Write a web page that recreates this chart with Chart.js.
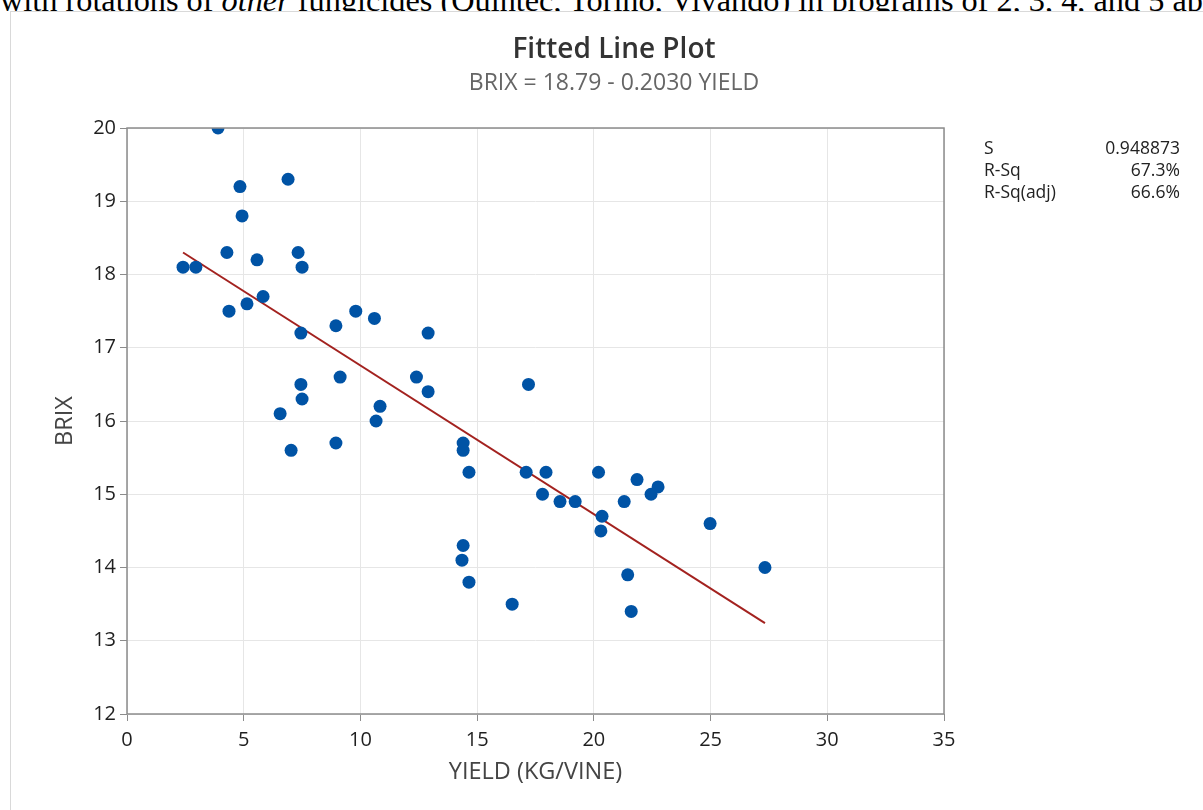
<!DOCTYPE html>
<html>
<head>
<meta charset="utf-8">
<script src="https://cdn.jsdelivr.net/npm/chart.js@4"></script>
<style>
  html, body { margin: 0; padding: 0; width: 1203px; height: 810px; overflow: hidden; background: #fff; }
  #top { position: absolute; left: 0; top: -18.5px; white-space: nowrap; font-family: "Liberation Serif", serif; font-size: 32.3px; color: #000; }
  #frame { position: absolute; left: 10px; top: 11px; width: 1300px; height: 900px; border: 1px solid #d9d9d9; box-sizing: border-box; background: #fff; }
  #wrap { position: absolute; left: 0; top: 0; width: 1203px; height: 810px; }
  .ttl { position: absolute; left: 314px; width: 600px; text-align: center; font-family: "Open Sans", sans-serif; white-space: nowrap; }
  #stats { position: absolute; left: 984px; top: 136px; font-family: "Open Sans", sans-serif; font-size: 17.5px; color: #222; }
  #stats td { padding: 0; line-height: 22px; }
  #stats td.v { text-align: right; width: 124px; }
</style>
</head>
<body>
<div id="top">with rotations of <i>other</i> fungicides (Quintec, Torino, Vivando) in programs of 2, 3, 4, and 5 applications</div>
<div id="frame"></div>
<div id="wrap"><canvas id="myChart" width="1203" height="810"></canvas></div>
<div class="ttl" style="top:28px;font-size:28px;font-weight:600;color:#333;">Fitted Line Plot</div>
<div class="ttl" style="top:65px;font-size:23px;color:#666;">BRIX = 18.79 - 0.2030 YIELD</div>
<table id="stats" cellspacing="0">
  <tr><td>S</td><td class="v">0.948873</td></tr>
  <tr><td>R-Sq</td><td class="v">67.3%</td></tr>
  <tr><td>R-Sq(adj)</td><td class="v">66.6%</td></tr>
</table>
<script>
// yield (kg/vine) and brix
const yieldVals = [2.4, 2.95, 3.9, 4.28, 4.37, 4.84, 4.93, 5.14, 5.57, 5.83,
                   6.9, 7.33, 7.5, 7.45, 6.56, 7.03, 7.45, 7.5, 8.95, 9.13,
                   8.95, 9.8, 10.6, 10.67, 10.84, 12.4, 12.9, 12.9, 14.4, 14.4,
                   14.65, 14.4, 14.35, 14.65, 16.5, 17.2, 17.1, 17.95, 17.8, 18.55,
                   19.2, 20.2, 20.35, 20.3, 21.3, 21.45, 21.6, 21.85, 22.45, 22.75,
                   24.98, 27.33];
const brixVals = [18.1, 18.1, 20.0, 18.3, 17.5, 19.2, 18.8, 17.6, 18.2, 17.7,
                  19.3, 18.3, 18.1, 17.2, 16.1, 15.6, 16.5, 16.3, 17.3, 16.6,
                  15.7, 17.5, 17.4, 16.0, 16.2, 16.6, 17.2, 16.4, 15.7, 15.6,
                  15.3, 14.3, 14.1, 13.8, 13.5, 16.5, 15.3, 15.3, 15.0, 14.9,
                  14.9, 15.3, 14.7, 14.5, 14.9, 13.9, 13.4, 15.2, 15.0, 15.1,
                  14.6, 14.0];
// fitted line end points
const fitX = [2.4, 27.33];
const fitY = [18.3, 13.24];
const xTicks = [0, 5, 10, 15, 20, 25, 30, 35];
const yTicks = [12, 13, 14, 15, 16, 17, 18, 19, 20];

const pts = yieldVals.map((v, i) => ({ x: v, y: brixVals[i] }));
const fit = fitX.map((v, i) => ({ x: v, y: fitY[i] }));

const boxPlugin = {
  id: 'box',
  afterDraw(chart) {
    const a = chart.chartArea;
    const c = chart.ctx;
    c.save();
    c.strokeStyle = '#8c8c8c';
    c.lineWidth = 1.5;
    c.strokeRect(a.left, a.top, a.right - a.left, a.bottom - a.top);
    c.restore();
  }
};

const tickFont = { family: 'Open Sans', size: 20, weight: 500 };
const titleFont = { family: 'Open Sans', size: 23.5 };

const ctx = document.getElementById('myChart');
new Chart(ctx, {
  type: 'scatter',
  data: {
    datasets: [{
      label: 'Fit',
      data: fit,
      showLine: true,
      borderColor: '#a3221f',
      borderWidth: 2,
      pointRadius: 0,
      order: 2
    }, {
      label: 'Data',
      data: pts,
      backgroundColor: '#0053a5',
      borderColor: '#0053a5',
      pointRadius: 6.5,
      pointBorderWidth: 0,
      order: 1
    }]
  },
  options: {
    responsive: false,
    animation: false,
    layout: { padding: { left: 47, top: 128, right: 259, bottom: 20 } },
    plugins: { legend: { display: false }, tooltip: { enabled: false } },
    scales: {
      x: {
        type: 'linear',
        min: 0, max: 35,
        afterBuildTicks: (s) => { s.ticks = xTicks.map(v => ({ value: v })); },
        afterFit: (s) => { s.height = 76; },
        grid: { color: '#e6e6e6', lineWidth: 1, tickColor: '#8c8c8c', tickLength: 7 },
        border: { display: false },
        ticks: { color: '#1f1f1f', font: tickFont, padding: 7, maxRotation: 0 },
        title: { display: true, text: 'YIELD (KG/VINE)', color: '#444', font: titleFont, padding: { top: 0 } }
      },
      y: {
        type: 'linear',
        min: 12, max: 20,
        afterBuildTicks: (s) => { s.ticks = yTicks.map(v => ({ value: v })); },
        afterFit: (s) => { s.width = 80; },
        grid: { color: '#e6e6e6', lineWidth: 1, tickColor: '#8c8c8c', tickLength: 7 },
        border: { display: false },
        ticks: { color: '#1f1f1f', font: tickFont, padding: 4 },
        title: { display: true, text: 'BRIX', color: '#444', font: titleFont, padding: { bottom: 8 } }
      }
    }
  },
  plugins: [boxPlugin]
});
</script>
</body>
</html>
